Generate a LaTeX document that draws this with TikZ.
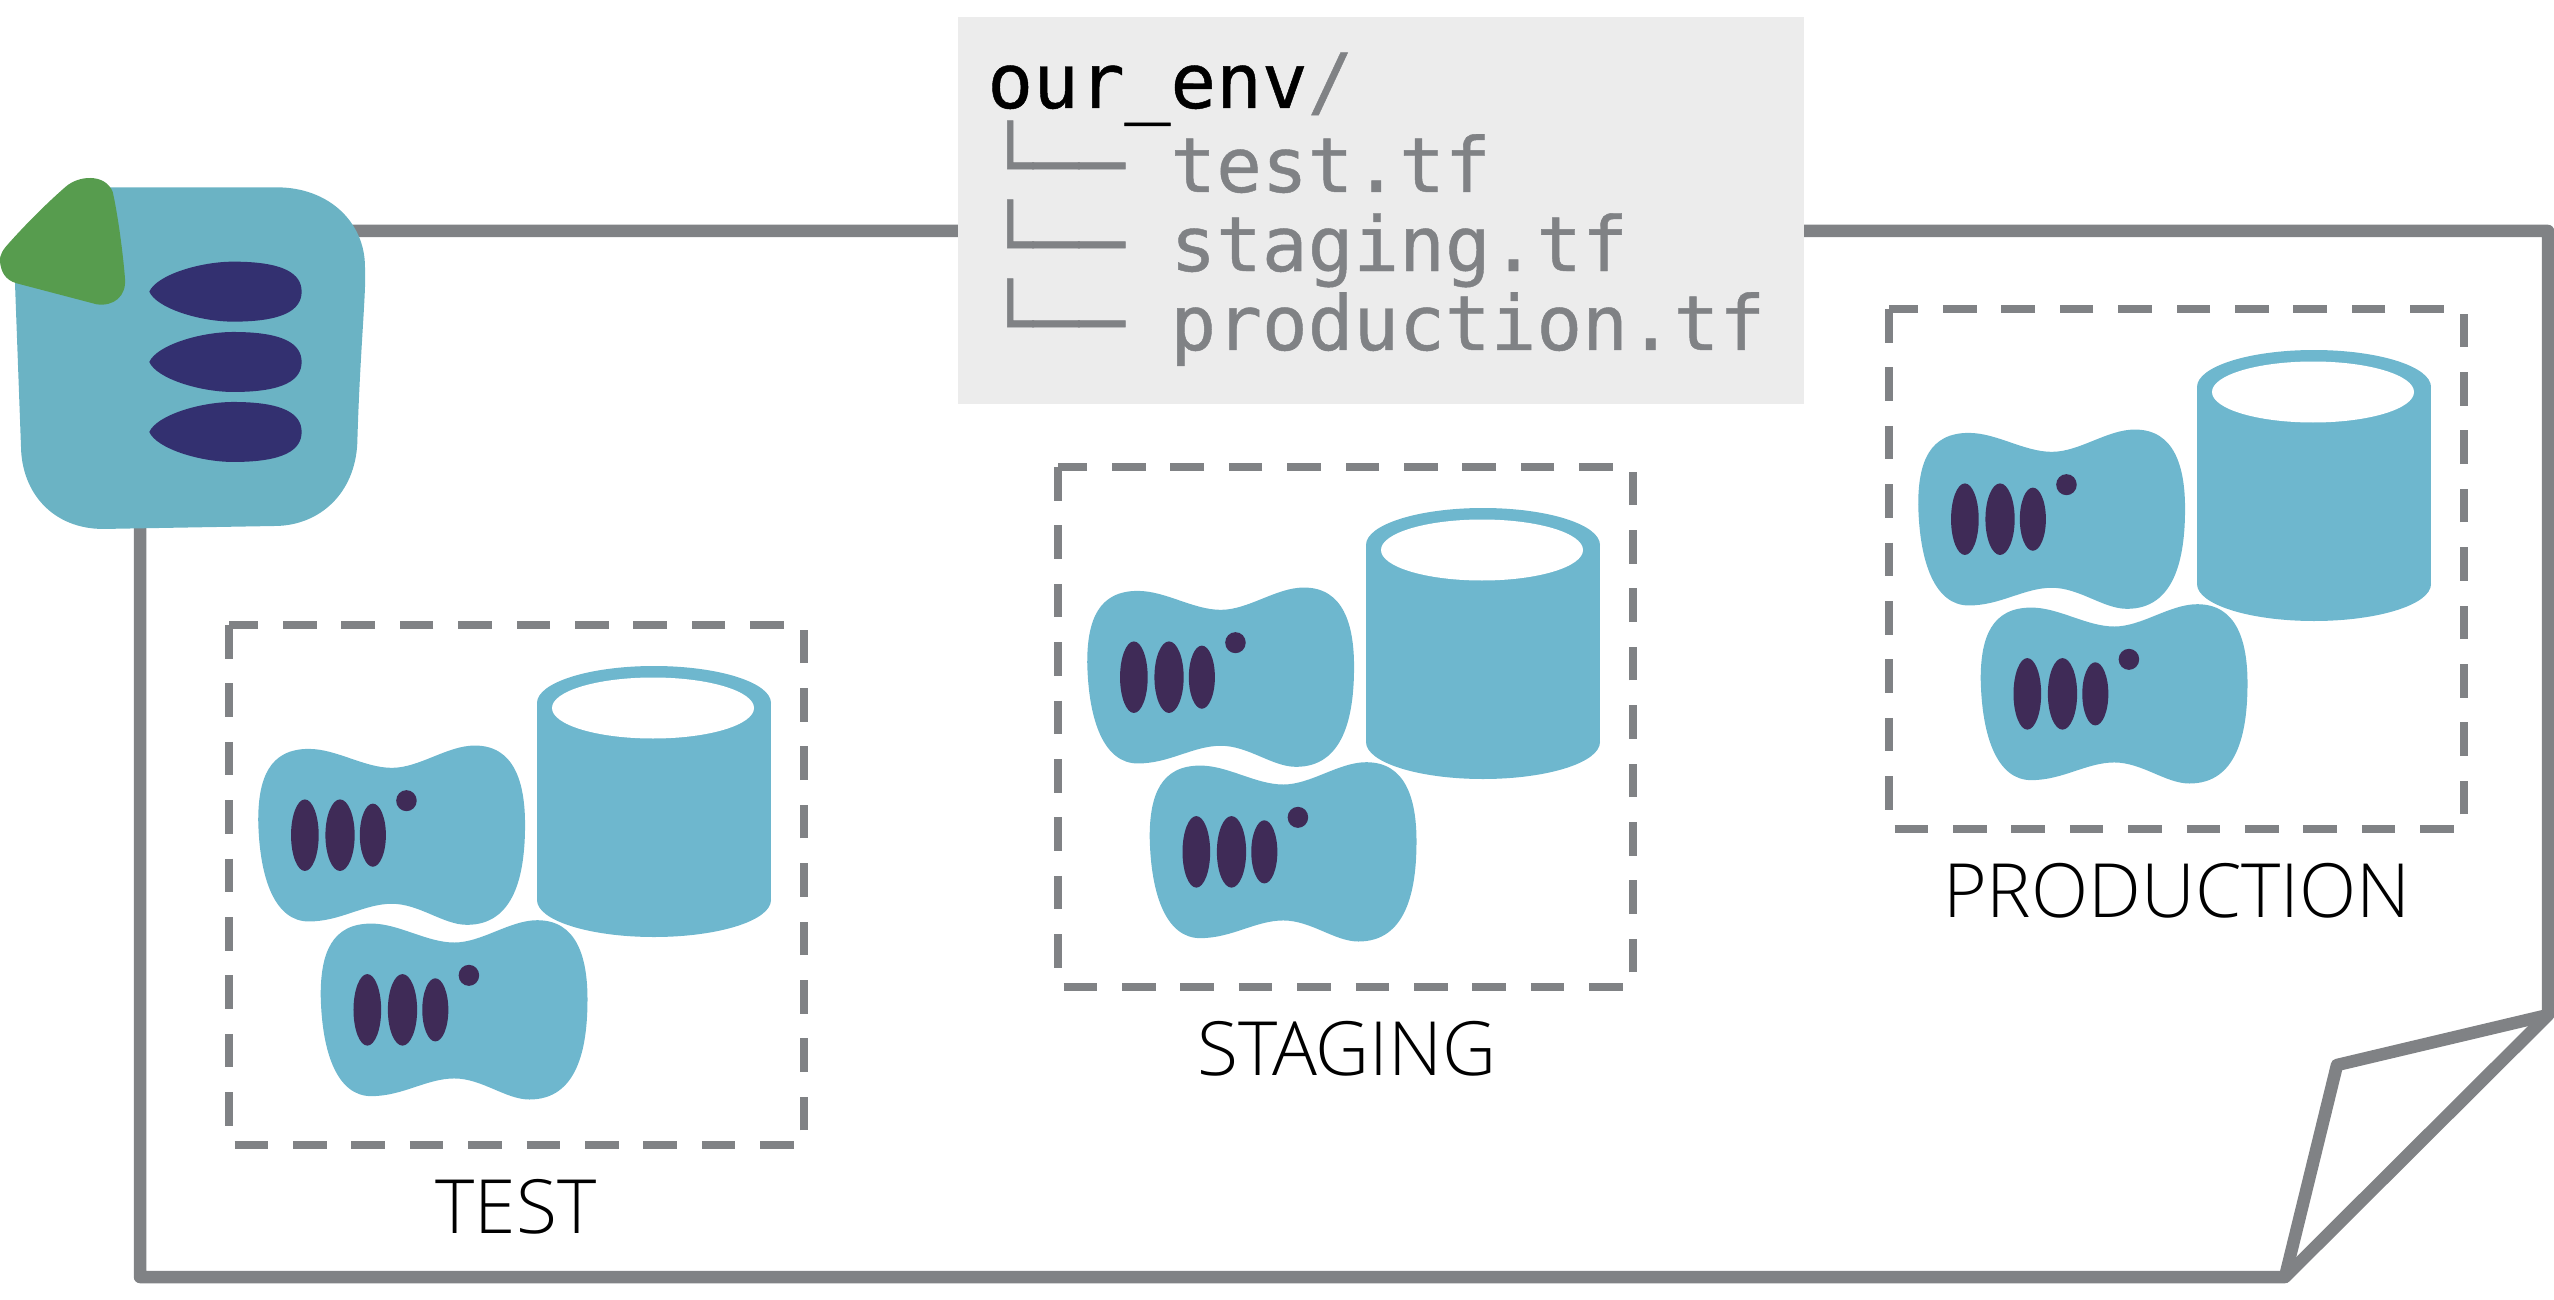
\documentclass[tikz,border=0pt]{standalone}
\usepackage{fontspec}
\newfontfamily\codefont[FakeBold=0.6]{DejaVu Sans Mono}
\newfontfamily\labelfont{Open Sans Light}
\definecolor{linegray}{HTML}{808285}
\definecolor{boxgray}{HTML}{ECECEC}
\definecolor{tealblue}{HTML}{6EB7CE}
\definecolor{iconteal}{HTML}{6BB3C4}
\definecolor{plum}{HTML}{3F2B57}
\definecolor{navyblue}{HTML}{333070}
\definecolor{leaf}{HTML}{579C4E}
\tikzset{
  x=0.5pt,y=-0.5pt,
  sheetline/.style={draw=linegray,line width=6.25pt,line join=round},
  envbox/.style={draw=linegray,line width=4pt,dash pattern=on 16.8pt off 12.4pt},
  envlabel/.style={anchor=base,inner sep=0pt,text=black,font=\labelfont\fontsize{37.4}{37.4}\selectfont},
  codeline/.style={anchor=base west,inner sep=0pt,text=linegray,font=\codefont\fontsize{38}{38}\selectfont},
}
\newcommand{\drawblob}{%
  \fill[tealblue] (122,500) .. controls (122,400) and (150,330) .. (250,330)
    .. controls (320,330) and (390,375) .. (460,375)
    .. controls (530,375) and (600,322) .. (670,322)
    .. controls (770,322) and (797,410) .. (797,510)
    .. controls (797,630) and (770,748) .. (650,748)
    .. controls (590,748) and (530,698) .. (460,698)
    .. controls (390,698) and (330,740) .. (250,740)
    .. controls (165,740) and (125,640) .. (122,500) -- cycle;
  \fill[plum] (240,535) ellipse [x radius=35,y radius=85];
  \fill[plum] (329,535) ellipse [x radius=37,y radius=85];
  \fill[plum] (412,535) ellipse [x radius=33,y radius=75];
  \fill[plum] (497,453) ellipse [x radius=26,y radius=25];
}
\newcommand{\drawgroup}{%
  \draw[envbox] (229,625) rectangle (804,1145);
  \fill[tealblue] (654,703) ellipse [x radius=117,y radius=37];
  \fill[tealblue] (654,900) ellipse [x radius=117,y radius=37];
  \fill[tealblue] (537,703) rectangle (771,900);
  \fill[white] (653,708) ellipse [x radius=101,y radius=30.5];
  \begin{scope}[shift={(210,610)},xscale=0.3953,yscale=0.4209]
    \drawblob
    \begin{scope}[shift={(158,415)}]\drawblob\end{scope}
  \end{scope}
}
\newcommand{\drawpill}{%
  \fill[navyblue] (448,425) .. controls (470,375) and (600,335) .. (700,335)
    .. controls (850,335) and (905,370) .. (905,425)
    .. controls (905,480) and (850,515) .. (700,515)
    .. controls (600,515) and (470,475) .. (448,425) -- cycle;
}
\begin{document}
\begin{tikzpicture}
\useasboundingbox (0,0) rectangle (2554,1300);
% sheet
\draw[sheetline] (140,231) -- (2548,231) -- (2548,1015) -- (2285,1277) -- (140,1277) -- cycle;
\draw[sheetline] (2548,1015) -- (2337,1065) -- (2285,1277);
% code box
\node (codebox) [fill=boxgray,inner sep=0pt,minimum width=423pt,minimum height=193.5pt,anchor=north west] at (958,17) {};
\node (line0) [codeline] at (987,108) {\textcolor{black}{our\_env}/};
\node (line1) [codeline] at (987,192) {└── test.tf};
\node (line2) [codeline] at (987,271) {└── staging.tf};
\node (line3) [codeline] at (987,350) {└── production.tf};
% groups
\drawgroup
\begin{scope}[shift={(829,-158)}]\drawgroup\end{scope}
\begin{scope}[shift={(1660,-316)}]\drawgroup\end{scope}
\node (test) [envlabel] at (516,1233) {TEST};
\node (staging) [envlabel] at (1347,1075) {STAGING};
\node (production) [envlabel] at (2177,917) {PRODUCTION};
% icon
\begin{scope}[shift={(0,150)},scale=0.3333]
  \fill[iconteal] (350,112) -- (830,112) .. controls (990,112) and (1095,220) .. (1095,350)
    .. controls (1100,420) and (1080,600) .. (1072,880)
    .. controls (1065,1030) and (960,1125) .. (830,1128)
    -- (310,1137) .. controls (160,1137) and (65,1030) .. (63,890)
    -- (45,400) -- (200,112) -- cycle;
  \fill[leaf] (0,335) .. controls (-3,315) and (12,295) .. (28,278)
    .. controls (80,220) and (140,160) .. (195,112)
    .. controls (235,75) and (315,70) .. (338,125)
    .. controls (355,200) and (370,320) .. (375,385)
    .. controls (380,440) and (340,470) .. (290,463)
    -- (50,400) .. controls (15,390) and (3,365) .. (0,335) -- cycle;
  \drawpill
  \begin{scope}[shift={(0,211)}]\drawpill\end{scope}
  \begin{scope}[shift={(0,421)}]\drawpill\end{scope}
\end{scope}
\end{tikzpicture}
\end{document}
